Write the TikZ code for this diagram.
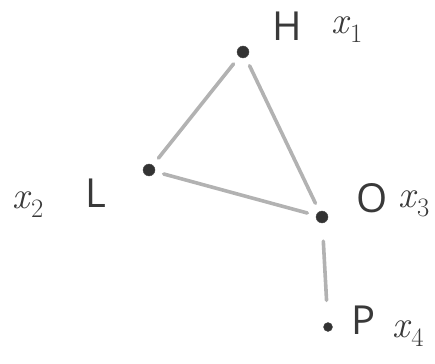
\documentclass[tikz,border=0pt]{standalone}
\usepackage{fontspec}
\setsansfont{Open Sans}
\usepackage{tikz}
\usetikzlibrary{positioning}

\newcommand{\xvar}[1]{\textit{x}\textsubscript{#1}}

\begin{document}
\begin{tikzpicture}[
    x=1pt, y=-1pt,
    atom/.style={
      circle, fill=gray!40!black, draw=gray!60!black,
      inner sep=0pt, minimum size=12pt
    },
    letter/.style={
      font=\sffamily\fontsize{40}{40}\selectfont, text=gray!45!black,
      inner sep=0pt
    },
    index/.style={
      font=\fontsize{38}{38}\selectfont, text=gray!45!black,
      inner sep=0pt
    },
    bond/.style={line width=3.6pt, gray!60, line cap=round,
      shorten <=9pt, shorten >=9pt}
  ]
    \useasboundingbox (0,0) rectangle (435,363);

    % atoms
    \node[atom] (h) at (243,52) {};
    \node[atom] (l) at (149,170) {};
    \node[atom] (o) at (322,217) {};
    \node[atom, minimum size=9pt] (p) at (328,327) {};

    % labels
    \node[letter] (hlab) at (287,26) {H};
    \node[index] (hidx) at (347,30) {\xvar{1}};
    \node[letter] (llab) at (96,193) {L};
    \node[index] (lidx) at (28,205) {\xvar{2}};
    \node[letter] (olab) at (372,198) {O};
    \node[index] (oidx) at (414,204) {\xvar{3}};
    \node[letter] (plab) at (364,320) {P};
    \node[index] (pidx) at (408,334) {\xvar{4}};

    % bonds
    \draw[bond] (h) -- (l);
    \draw[bond] (h) -- (o);
    \draw[bond] (l) -- (o);
    \draw[bond, shorten <=18pt, shorten >=22pt] (o) -- (p);

  \end{tikzpicture}
\end{document}
